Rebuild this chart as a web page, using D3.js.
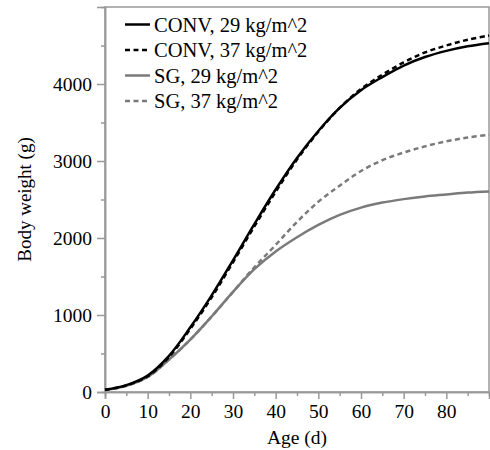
<!DOCTYPE html>
<html>
<head>
<meta charset="utf-8">
<script src="https://cdn.jsdelivr.net/npm/d3@7"></script>
<style>
  body { margin: 0; background: #fff; }
  text { font-family: "Liberation Serif", "Times New Roman", serif; fill: #000; }
</style>
</head>
<body>
<script>
var w = 490;
var h = 450;
var margin = {top: 7, right: 1, bottom: 58, left: 105};

// body weight (g) by age (d)
var ages   = [0, 5, 10, 15, 20, 25, 30, 35, 40, 45, 50, 55, 60, 65, 70, 75, 80, 85, 90];
var conv29 = [30, 90, 215, 470, 840, 1255, 1710, 2180, 2630, 3040, 3390, 3690, 3920, 4090, 4240, 4350, 4430, 4490, 4530];
var conv37 = [30, 85, 205, 455, 820, 1230, 1685, 2150, 2600, 3020, 3380, 3690, 3935, 4120, 4280, 4410, 4500, 4575, 4630];
var sg29   = [25, 80, 195, 420, 680, 980, 1300, 1595, 1825, 2010, 2170, 2300, 2395, 2460, 2505, 2540, 2565, 2590, 2605];
var sg37   = [25, 80, 195, 420, 680, 980, 1300, 1620, 1910, 2210, 2470, 2680, 2870, 3010, 3110, 3190, 3255, 3305, 3340];

var xTicks = [0, 10, 20, 30, 40, 50, 60, 70, 80];
var xMinor = [5, 15, 25, 35, 45, 55, 65, 75, 85];
var yTicks = [0, 1000, 2000, 3000, 4000];
var yMinor = [500, 1500, 2500, 3500, 4500];

var series = [
  {name: "CONV, 29 kg/m^2", values: conv29, color: "#000", dash: null},
  {name: "CONV, 37 kg/m^2", values: conv37, color: "#000", dash: "5,3.5"},
  {name: "SG, 29 kg/m^2",   values: sg29,   color: "#7a7a7a", dash: null},
  {name: "SG, 37 kg/m^2",   values: sg37,   color: "#7a7a7a", dash: "5,3.5"}
];

var pw = w - margin.left - margin.right;
var ph = h - margin.top - margin.bottom;

var svg = d3.select("body")
    .append("svg")
    .attr("width", w)
    .attr("height", h);

var g = svg.append("g")
    .attr("transform", "translate(" + margin.left + "," + margin.top + ")");

var x = d3.scaleLinear().domain([0, 90]).range([0, pw]);
var y = d3.scaleLinear().domain([0, 5000]).range([ph, 0]);

// frame
g.append("rect")
    .attr("x", 0)
    .attr("y", 0)
    .attr("width", pw)
    .attr("height", ph)
    .attr("fill", "none")
    .attr("stroke", "#999")
    .attr("stroke-width", 1.5);

// axes
function styleAxis(sel) {
    sel.attr("font-family", null);
    sel.select(".domain").attr("stroke", "#999").attr("stroke-width", 1.5);
    sel.selectAll(".tick line").attr("stroke", "#999").attr("stroke-width", 1.5);
    sel.selectAll(".tick text").attr("font-size", "19.5px").attr("fill", "#111");
}

g.append("g")
    .attr("transform", "translate(0," + ph + ")")
    .call(d3.axisBottom(x).tickValues(xMinor).tickSize(4).tickFormat(""))
    .call(styleAxis);
g.append("g")
    .attr("transform", "translate(0," + ph + ")")
    .call(d3.axisBottom(x).tickValues(xTicks).tickSize(7).tickPadding(5).tickFormat(d3.format("d")))
    .call(styleAxis);

g.append("g")
    .call(d3.axisLeft(y).tickValues(yMinor).tickSize(4).tickFormat(""))
    .call(styleAxis);
g.append("g")
    .call(d3.axisLeft(y).tickValues(yTicks).tickSize(8).tickPadding(5).tickFormat(d3.format("d")))
    .call(styleAxis);

// curves
var line = d3.line()
    .x(function(d) { return x(d[0]); })
    .y(function(d) { return y(d[1]); })
    .curve(d3.curveCatmullRom.alpha(0.5));

// gray first so black is on top
[2, 3, 0, 1].forEach(function(i) {
    var s = series[i];
    g.append("path")
        .datum(ages.map(function(a, j) { return [a, s.values[j]]; }))
        .attr("d", line)
        .attr("fill", "none")
        .attr("stroke", s.color)
        .attr("stroke-width", 2.5)
        .attr("stroke-dasharray", s.dash);
});

// legend
var legend = g.append("g").attr("transform", "translate(20,17.5)");
series.forEach(function(s, i) {
    var row = legend.append("g").attr("transform", "translate(0," + (i * 25.5) + ")");
    row.append("line")
        .attr("x1", 0).attr("x2", 25)
        .attr("y1", 0).attr("y2", 0)
        .attr("stroke", s.color)
        .attr("stroke-width", 2.5)
        .attr("stroke-dasharray", s.dash);
    row.append("text")
        .attr("x", 29)
        .attr("y", 7)
        .attr("font-size", "20.5px")
        .text(s.name);
});

// axis titles
svg.append("text")
    .attr("x", margin.left + pw / 2)
    .attr("y", 444)
    .attr("text-anchor", "middle")
    .attr("font-size", "19.5px")
    .text("Age (d)");

svg.append("text")
    .attr("transform", "translate(31," + (margin.top + ph / 2) + ") rotate(-90)")
    .attr("text-anchor", "middle")
    .attr("font-size", "19px")
    .text("Body weight (g)");
</script>
</body>
</html>
